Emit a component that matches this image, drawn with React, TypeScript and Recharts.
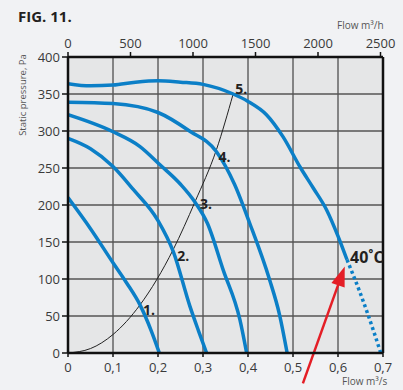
import React from 'react';
import {
  LineChart,
  Line,
  XAxis,
  YAxis,
  CartesianGrid,
  ReferenceLine,
  ReferenceDot,
} from 'recharts';

type Pt = { x: number; y: number };

// fan curves, x = flow m³/s, y = static pressure Pa
const curve1: Pt[] = [
  { x: 0, y: 210 }, { x: 0.05, y: 168 }, { x: 0.1, y: 122 }, { x: 0.13, y: 95 },
  { x: 0.16, y: 65 }, { x: 0.185, y: 30 }, { x: 0.203, y: 0 },
];
const curve2: Pt[] = [
  { x: 0, y: 290 }, { x: 0.05, y: 276 }, { x: 0.1, y: 252 }, { x: 0.145, y: 221 },
  { x: 0.2, y: 179 }, { x: 0.234, y: 137 }, { x: 0.271, y: 63 }, { x: 0.29, y: 30 },
  { x: 0.308, y: 0 },
];
const curve3: Pt[] = [
  { x: 0, y: 322 }, { x: 0.1, y: 299 }, { x: 0.16, y: 279 }, { x: 0.205, y: 254 },
  { x: 0.25, y: 228 }, { x: 0.282, y: 204 }, { x: 0.31, y: 175 }, { x: 0.345, y: 112 },
  { x: 0.382, y: 45 }, { x: 0.397, y: 0 },
];
const curve4: Pt[] = [
  { x: 0, y: 339 }, { x: 0.1, y: 337 }, { x: 0.2, y: 325 }, { x: 0.27, y: 300 },
  { x: 0.33, y: 272 }, { x: 0.37, y: 228 }, { x: 0.404, y: 175 }, { x: 0.448, y: 99 },
  { x: 0.47, y: 52 }, { x: 0.487, y: 0 },
];
const curve5: Pt[] = [
  { x: 0, y: 364 }, { x: 0.05, y: 361 }, { x: 0.1, y: 362 }, { x: 0.15, y: 366 },
  { x: 0.2, y: 368 }, { x: 0.25, y: 366 }, { x: 0.3, y: 363 }, { x: 0.367, y: 350 },
  { x: 0.4, y: 340 }, { x: 0.441, y: 322 }, { x: 0.478, y: 292 }, { x: 0.516, y: 251 },
  { x: 0.545, y: 223 }, { x: 0.575, y: 193 }, { x: 0.6, y: 158 }, { x: 0.62, y: 126 },
];
const curve5Dotted: Pt[] = [
  { x: 0.62, y: 126 }, { x: 0.65, y: 80 }, { x: 0.68, y: 28 }, { x: 0.695, y: 0 },
];
// system curve through the operating points
const systemCurve: Pt[] = [
  { x: 0, y: 0 }, { x: 0.05, y: 6 }, { x: 0.1, y: 25 }, { x: 0.16, y: 65 },
  { x: 0.234, y: 140 }, { x: 0.282, y: 204 }, { x: 0.33, y: 275 }, { x: 0.367, y: 350 },
];
const pointLabels = [
  { name: '1.', x: 0.16, y: 65 },
  { name: '2.', x: 0.234, y: 137 },
  { name: '3.', x: 0.282, y: 204 },
  { name: '4.', x: 0.33, y: 272 },
  { name: '5.', x: 0.367, y: 350 },
];
const arrowFrom = { x: 0.522, y: -41 };
const arrowTo = { x: 0.615, y: 117 };

const xTicks = [0, 0.1, 0.2, 0.3, 0.4, 0.5, 0.6, 0.7];
const topTicks = [0, 500, 1000, 1500, 2000, 2500];
const yTicks = [0, 50, 100, 150, 200, 250, 300, 350, 400];

const BLUE = '#0b7fc7';
const tickStyle = { fontSize: 13, fill: '#3a3a3a' };

const fmtX = (v: number) => (v === 0 ? '0' : v.toFixed(1).replace('.', ','));

const labelOffsets: Record<string, [number, number]> = {
  '1.': [3, 10],
  '2.': [4, 9],
  '3.': [5, 7],
  '4.': [2, 10],
  '5.': [2, 0],
};

const Arrow = (props: any) => {
  const { x1, y1, x2, y2 } = props;
  const dx = x2 - x1;
  const dy = y2 - y1;
  const len = Math.sqrt(dx * dx + dy * dy);
  const ux = dx / len;
  const uy = dy / len;
  const hl = 20;
  const hw = 7;
  const bx = x2 - ux * hl;
  const by = y2 - uy * hl;
  const pts = `${x2},${y2} ${bx - uy * hw},${by + ux * hw} ${bx + uy * hw},${by - ux * hw}`;
  return (
    <g>
      <line x1={x1} y1={y1} x2={bx + ux * 2} y2={by + uy * 2} stroke="#e41e26" strokeWidth={2.5} />
      <polygon points={pts} fill="#e41e26" />
    </g>
  );
};

// empty series so the m³/h axis gets drawn
const topAxisData = topTicks.map((v) => ({ x: v }));

export default function App() {
  return (
    <div
      style={{
        position: 'relative',
        width: 403,
        height: 390,
        background: '#f1f2f4',
        fontFamily: '"Open Sans", sans-serif',
        overflow: 'hidden',
      }}
    >
      <style>{`body{margin:0}`}</style>
      <div style={{ position: 'absolute', left: 18, top: 6, fontSize: 15, fontWeight: 700, color: '#231f20' }}>
        FIG. 11.
      </div>
      <div style={{ position: 'absolute', left: 337, top: 18, fontSize: 10, color: '#555' }}>
        Flow m³/h
      </div>
      <div style={{ position: 'absolute', left: 342, top: 374, fontSize: 10, color: '#555' }}>
        Flow m³/s
      </div>
      <div
        style={{
          position: 'absolute',
          left: 22,
          top: 95,
          fontSize: 9.5,
          color: '#555',
          whiteSpace: 'nowrap',
          transform: 'translate(-50%, -50%) rotate(-90deg)',
        }}
      >
        Static pressure, Pa
      </div>
      <div style={{ position: 'absolute', left: 0, top: 0 }}>
        <LineChart width={403} height={390} margin={{ top: 32, right: 20, left: 28, bottom: 17 }}>
          <CartesianGrid
            xAxisId="b"
            yAxisId="p"
            horizontal={false}
            stroke="#222"
            strokeWidth={1}
            fill="#e5e6e7"
          />
          <CartesianGrid xAxisId="b" yAxisId="p" vertical={false} stroke="#555" strokeWidth={1.3} />
          <XAxis
            xAxisId="b"
            dataKey="x"
            type="number"
            domain={[0, 0.7]}
            ticks={xTicks}
            tickFormatter={fmtX}
            height={20}
            tick={tickStyle}
            tickSize={4}
            tickMargin={6}
            axisLine={{ stroke: '#111', strokeWidth: 2.5 }}
            tickLine={{ stroke: '#111', strokeWidth: 1.5 }}
            allowDataOverflow
          />
          <XAxis
            xAxisId="t"
            dataKey="x"
            orientation="top"
            type="number"
            domain={[0, 2520]}
            ticks={topTicks}
            height={25}
            tick={tickStyle}
            tickSize={5}
            tickMargin={4}
            axisLine={{ stroke: '#111', strokeWidth: 2.5 }}
            tickLine={{ stroke: '#111', strokeWidth: 1.5 }}
            allowDataOverflow
          />
          <YAxis
            yAxisId="p"
            type="number"
            domain={[0, 400]}
            ticks={yTicks}
            width={40}
            tick={tickStyle}
            tickSize={6}
            tickMargin={2}
            axisLine={{ stroke: '#111', strokeWidth: 2.5 }}
            tickLine={{ stroke: '#111', strokeWidth: 1.5 }}
            allowDataOverflow
          />
          <Line xAxisId="t" yAxisId="p" data={topAxisData} dataKey="y" stroke="none" dot={false} legendType="none" isAnimationActive={false} />
          <ReferenceLine xAxisId="b" yAxisId="p" x={0.7} stroke="#111" strokeWidth={2.5} />
          <Line xAxisId="b" yAxisId="p" data={systemCurve} dataKey="y" type="monotone" stroke="#222" strokeWidth={1} dot={false} isAnimationActive={false} />
          <Line xAxisId="b" yAxisId="p" data={curve1} dataKey="y" type="monotone" stroke={BLUE} strokeWidth={3.5} dot={false} isAnimationActive={false} />
          <Line xAxisId="b" yAxisId="p" data={curve2} dataKey="y" type="monotone" stroke={BLUE} strokeWidth={3.5} dot={false} isAnimationActive={false} />
          <Line xAxisId="b" yAxisId="p" data={curve3} dataKey="y" type="monotone" stroke={BLUE} strokeWidth={3.5} dot={false} isAnimationActive={false} />
          <Line xAxisId="b" yAxisId="p" data={curve4} dataKey="y" type="monotone" stroke={BLUE} strokeWidth={3.5} dot={false} isAnimationActive={false} />
          <Line xAxisId="b" yAxisId="p" data={curve5} dataKey="y" type="monotone" stroke={BLUE} strokeWidth={3.5} dot={false} isAnimationActive={false} />
          <Line xAxisId="b" yAxisId="p" data={curve5Dotted} dataKey="y" type="monotone" stroke={BLUE} strokeWidth={3.5} strokeDasharray="3 3" dot={false} isAnimationActive={false} />
          {pointLabels.map((p) => (
            <ReferenceDot
              key={p.name}
              xAxisId="b"
              yAxisId="p"
              x={p.x}
              y={p.y}
              r={0}
              fill="none"
              stroke="none"
              label={(lp: any) => {
                const vb = lp.viewBox || {};
                const cx = (vb.x ?? 0) + (vb.width ?? 0) / 2;
                const cy = (vb.y ?? 0) + (vb.height ?? 0) / 2;
                const [dx, dy] = labelOffsets[p.name];
                return (
                  <text x={cx + dx} y={cy + dy} fontSize={14} fontWeight={700} fill="#231f20">
                    {p.name}
                  </text>
                );
              }}
            />
          ))}
          <ReferenceDot
            xAxisId="b"
            yAxisId="p"
            x={0.62}
            y={126}
            r={0}
            fill="none"
            stroke="none"
            label={(lp: any) => {
              const vb = lp.viewBox || {};
              const cx = (vb.x ?? 0) + (vb.width ?? 0) / 2;
              const cy = (vb.y ?? 0) + (vb.height ?? 0) / 2;
              return (
                <text x={cx + 3} y={cy + 3} fontSize={16} fontWeight={700} fill="#231f20">
                  40˚C
                </text>
              );
            }}
          />
          <ReferenceLine
            xAxisId="b"
            yAxisId="p"
            segment={[arrowFrom, arrowTo]}
            ifOverflow="visible"
            shape={Arrow}
          />
        </LineChart>
      </div>
    </div>
  );
}
